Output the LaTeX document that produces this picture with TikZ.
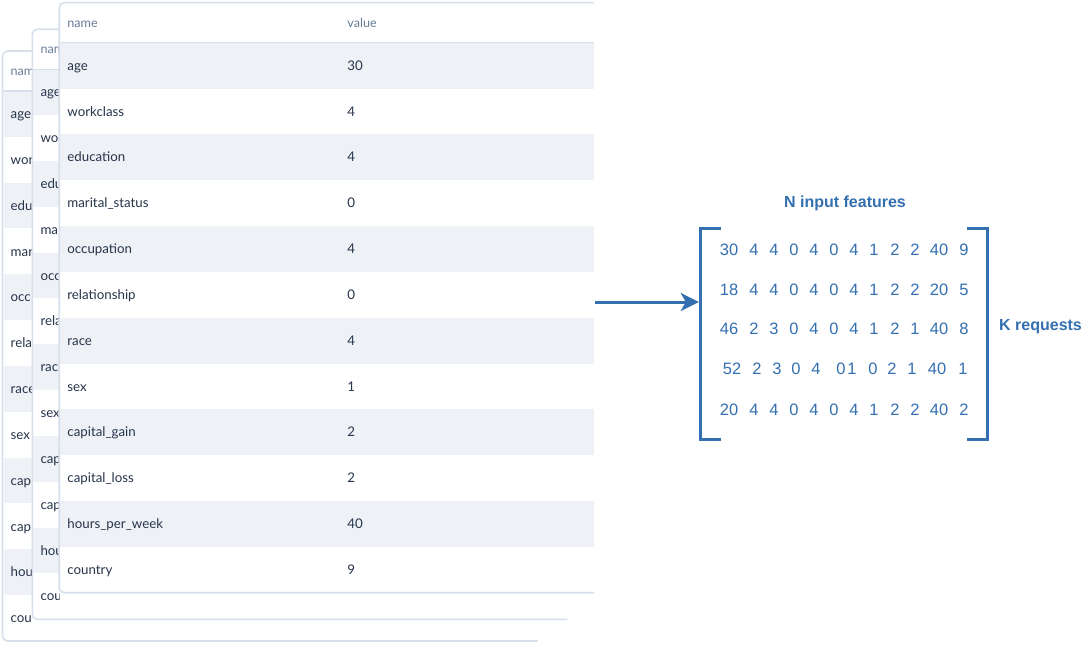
\documentclass[tikz,border=0pt]{standalone}
\usepackage{fontspec}
\setmainfont{Liberation Sans}
\newfontfamily\tabfont{Lato}
\usetikzlibrary{arrows.meta,fit}
\definecolor{matblue}{HTML}{3470B0}
\definecolor{stripe}{HTML}{EEF2F7}
\definecolor{tborder}{HTML}{D6DFEA}
\definecolor{hdrtext}{HTML}{6A7D99}
\definecolor{celltext}{HTML}{26344A}
\tikzset{
  celltxt/.style={anchor=base west,inner sep=0pt,text=celltext,font=\tabfont\fontsize{13.3}{15}\selectfont},
  hdrtxt/.style={anchor=base west,inner sep=0pt,text=hdrtext,font=\tabfont\fontsize{12.6}{14}\selectfont},
  numtxt/.style={anchor=base,inner sep=0pt,text=matblue,font=\fontsize{16.5}{18}\selectfont},
  lbltxt/.style={inner sep=0pt,text=matblue,font=\bfseries\fontsize{16}{18}\selectfont},
  bracket/.style={draw=matblue,line width=3pt},
  tableborder/.style={draw=tborder,line width=1.6pt},
}
% card frame: #1 x, #2 y
\newcommand{\drawcard}[2]{%
  \fill[white,rounded corners=5pt] (#1,#2) rectangle ++(535,590);
  \foreach \i in {0,2,4,6,8,10}{
    \fill[stripe] (#1+1,#2+40+\i*45.83) rectangle (#1+535,#2+40+\i*45.83+45.83);
  }
  \draw[tableborder,line width=1.2pt] (#1,#2+40) -- (#1+535,#2+40);
  \draw[tableborder,rounded corners=5pt] (#1+535,#2) -- (#1,#2) -- (#1,#2+590) -- (#1+535,#2+590);
}
% visible name fragments of a back card: #1 x, #2 y, #3 prefix, #4 clip width, #5 header text, #6 list
\newcommand{\cardnames}[6]{%
  \begin{scope}
  \clip (#1,#2) rectangle (#1+#4,#2+600);
  \node[hdrtxt] (#3h1) at (#1+8,#2+24.5) {#5};
  \foreach \nm [count=\c] in {#6}{
    \node[celltxt] (#3n\c) at (#1+8,#2+40+\c*45.83-22.9+4.6) {\nm};
  }
  \end{scope}
}
\begin{document}
\begin{tikzpicture}[x=1pt,y=-1pt]
\useasboundingbox (0,0) rectangle (1091,652);
\fill[white] (0,0) rectangle (1091,652);
% stacked tables, back to front
\drawcard{2.5}{51}
\cardnames{2.5}{51}{back}{29.8}{nam}{age,wor,edu,mar,occ,rela,race,sex,cap,cap,hou,cou}
\drawcard{32.3}{29.3}
\cardnames{32.3}{29.3}{mid}{26.9}{nam}{age,wo,edu,ma,occ,rela,rac,sex,cap,cap,hou,cou}
\drawcard{59.2}{2.7}
\node[hdrtxt] (fronth1) at (67.2,27.2) {name};
\node[hdrtxt] (fronth2) at (347.2,27.2) {value};
\foreach \nm/\vl [count=\c] in {age/30,workclass/4,education/4,marital\_status/0,occupation/4,relationship/0,race/4,sex/1,capital\_gain/2,capital\_loss/2,hours\_per\_week/40,country/9}{
  \node[celltxt] (frontn\c) at (67.2,2.7+40+\c*45.83-22.9+4.6) {\nm};
  \node[celltxt] (frontv\c) at (347.2,2.7+40+\c*45.83-22.9+4.6) {\vl};
}
% matrix
\node[lbltxt] (ntitle) at (845,203) {N input features};
\node[lbltxt,anchor=west] (ktitle) at (999,327) {K requests};
\coordinate (mtl) at (701,229);
\coordinate (mbr) at (987,439);
\node[inner sep=0pt,fit=(mtl)(mbr)] (matrixbox) {};
\draw[bracket] ([xshift=20pt]matrixbox.north west) -- (matrixbox.north west) -- (matrixbox.south west) -- ([xshift=20pt]matrixbox.south west);
\draw[bracket] ([xshift=-20pt]matrixbox.north east) -- (matrixbox.north east) -- (matrixbox.south east) -- ([xshift=-20pt]matrixbox.south east);
\def\xsA{{729,754,774,794,814,834,854,874,895,915,939,964}}
\def\xsB{{732,757,777,796,816,841,852,873,892,912,937,963}}
\foreach \r/\yy/\vals in {1/249/{30,4,4,0,4,0,4,1,2,2,40,9},2/289/{18,4,4,0,4,0,4,1,2,2,20,5},3/328/{46,2,3,0,4,0,4,1,2,1,40,8},5/409/{20,4,4,0,4,0,4,1,2,2,40,2}}{
  \foreach \v [count=\c] in \vals {
    \pgfmathsetmacro{\xx}{\xsA[\c-1]}
    \node[numtxt] (m\r-\c) at (\xx,\yy+6) {\v};
  }
}
\foreach \v [count=\c] in {52,2,3,0,4,0,1,0,2,1,40,1}{
  \pgfmathsetmacro{\xx}{\xsB[\c-1]}
  \node[numtxt] (m4-\c) at (\xx,374) {\v};
}
% arrow
\coordinate (arrowstart) at (595,302);
\draw[draw=matblue,line width=3pt,-{Stealth[length=18pt,width=18pt,inset=5pt]}] (arrowstart) -- ([xshift=-2pt]arrowstart -| matrixbox.west);
\end{tikzpicture}
\end{document}
